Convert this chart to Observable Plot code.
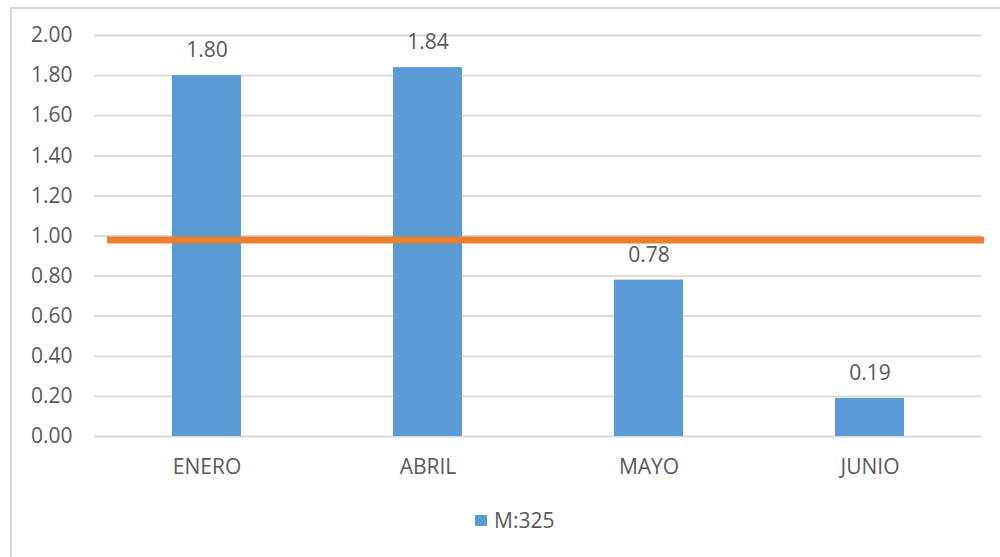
<!DOCTYPE html>
<html>
<head>
<meta charset="utf-8">
<script src="https://cdn.jsdelivr.net/npm/d3@7"></script>
<script src="https://cdn.jsdelivr.net/npm/@observablehq/plot@0.6"></script>
<style>
  html, body { margin: 0; padding: 0; background: #fff; }
  body { width: 1000px; height: 557px; position: relative; overflow: hidden; font-family: "Open Sans", Lato, sans-serif; }
  #frame { position: absolute; left: 10px; top: 7px; width: 1100px; height: 700px; border-top: 2px solid #d9d9d9; border-left: 2px solid #d9d9d9; }
  #chart { position: absolute; left: 0; top: 0; }
  #legend { position: absolute; left: 475px; top: 508px; height: 24px; display: flex; align-items: center; font-size: 21px; color: #595959; }
  #legend .sw { width: 12px; height: 11px; background: #5b9bd5; margin-right: 7px; }
</style>
</head>
<body>
<div id="frame"></div>
<div id="chart"></div>
<div id="legend"><span class="sw"></span><span id="legend-label"></span></div>
<script>
const months = ["ENERO", "ABRIL", "MAYO", "JUNIO"];
const values = [1.80, 1.84, 0.78, 0.19];
const seriesName = "M:325";
const reference = [0.98];
const yTicks = [0, 0.2, 0.4, 0.6, 0.8, 1.0, 1.2, 1.4, 1.6, 1.8, 2.0];

const data = months.map((m, i) => ({ month: m, value: values[i] }));
const FS = 21;

const chart = Plot.plot({
  width: 1000,
  height: 500,
  marginLeft: 94,
  marginRight: 19,
  marginTop: 35,
  marginBottom: 64,
  style: { fontFamily: "'Open Sans', Lato, sans-serif", fontSize: FS + "px", color: "#595959", background: "transparent" },
  x: { domain: months, paddingInner: 0.69, paddingOuter: 0.345, label: null },
  y: { domain: [0, 2], label: null },
  marks: [
    Plot.gridY(yTicks, { stroke: "#d9d9d9", strokeOpacity: 1, strokeWidth: 1.8 }),
    Plot.barY(data, { x: "month", y: "value", fill: "#5b9bd5" }),
    Plot.text(data, { x: "month", y: "value", text: d => d.value.toFixed(2), dy: -25, fill: "#595959", fontSize: FS }),
    Plot.ruleY(reference, { stroke: "#ed7d31", strokeWidth: 7, insetLeft: 13, insetRight: -3 }),
    Plot.axisY({ ticks: yTicks, tickSize: 0, tickPadding: 22, tickFormat: d => d.toFixed(2), fill: "#595959", fontSize: FS, label: null }),
    Plot.axisX({ tickSize: 0, tickPadding: 23, fill: "#595959", fontSize: FS, label: null })
  ]
});
document.getElementById("chart").appendChild(chart);
document.getElementById("legend-label").textContent = seriesName;
</script>
</body>
</html>
